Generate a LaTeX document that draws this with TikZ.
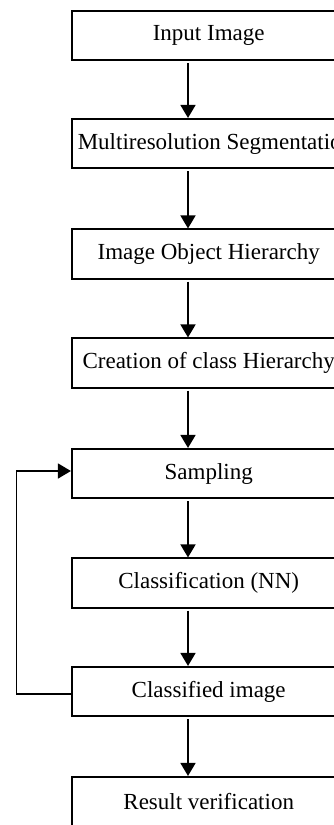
\documentclass[tikz,border=0pt]{standalone}
\usepackage{fontspec}
\setmainfont{Liberation Serif}
\usetikzlibrary{arrows.meta}
\begin{document}
\begin{tikzpicture}[x=1pt,y=-1pt,
  box/.style={draw,line width=1.6pt,minimum width=274pt,minimum height=49.5pt,inner sep=0pt,
    font=\fontsize{23}{27}\selectfont},
  arr/.style={line width=1.6pt,-{Triangle[width=15pt,length=13pt]}}]
\useasboundingbox (0,0) rectangle (334,825);
\clip (0,0) rectangle (334,825);
\node[box] (in) at (208.7,35.5) {Input Image};
\node[box] (ms) at (208.7,143.5) {\makebox[0pt]{\hspace{13.5pt}Multiresolution Segmentation}};
\node[box] (io) at (208.7,254) {Image Object Hierarchy};
\node[box] (ch) at (208.7,363) {Creation of class Hierarchy};
\node[box] (sa) at (208.7,473.5) {Sampling};
\node[box] (cn) at (208.7,583) {Classification (NN)};
\node[box] (cl) at (208.7,691.5) {Classified image};
\node[box] (rv) at (208.7,801.5) {Result verification};
\foreach \a/\b in {in/ms,ms/io,io/ch,ch/sa,sa/cn,cn/cl,cl/rv}
  \draw[arr,shorten <=2pt] ([xshift=-20.7pt]\a.south) -- ([xshift=-20.7pt]\b.north);
\coordinate (lc) at (16.5,694);
\coordinate (lt) at (16.5,471);
\draw[arr] (lc -| cl.west) -- (lc) -- (lt) -- (lt -| sa.west);
\end{tikzpicture}
\end{document}
